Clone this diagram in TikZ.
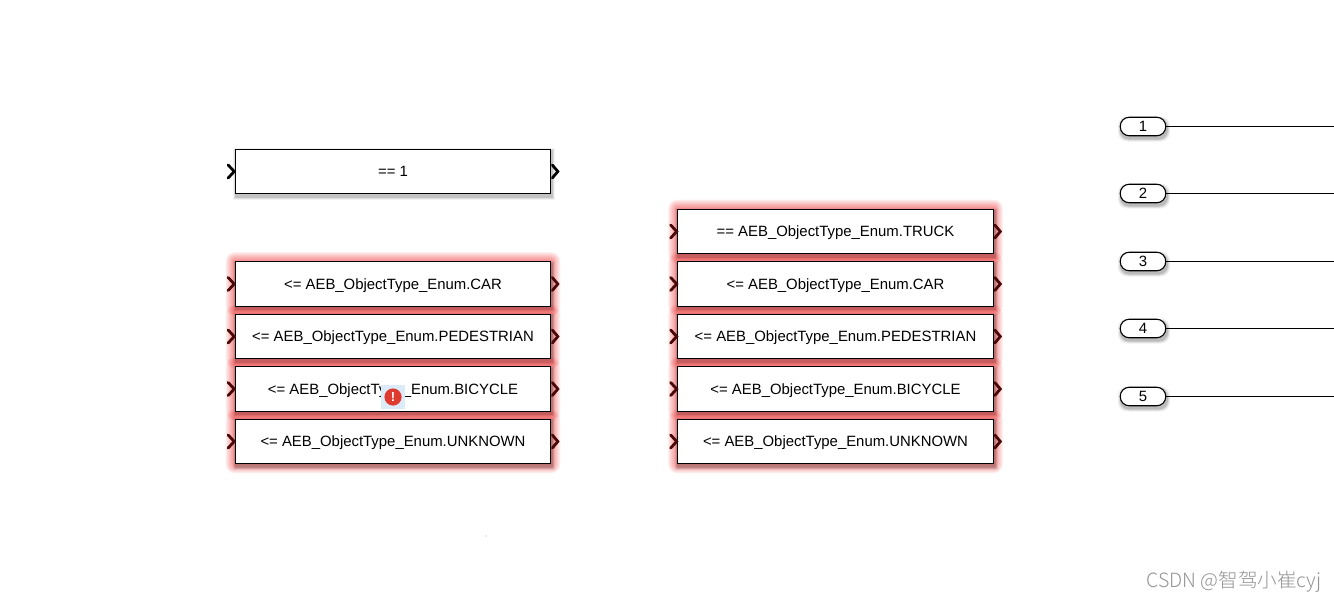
\documentclass[tikz,border=0pt]{standalone}
\usepackage{fontspec}
\setmainfont{Liberation Sans}
\newfontfamily\cjkwm{Noto Sans CJK SC Light}
\usetikzlibrary{backgrounds,calc}
\definecolor{portdark}{HTML}{4A0808}
\definecolor{glowred}{HTML}{F00A0A}
\definecolor{badgeblue}{HTML}{DCEBFA}
\definecolor{badgered}{HTML}{DE3A30}
\tikzset{
  x=1pt,y=-1pt,
  block/.style={draw=black,line width=1.15pt,fill=white,minimum width=315.5pt,minimum height=44.5pt,inner sep=0pt,text height=13pt,text depth=2.2pt,font=\fontsize{14.9}{16}\selectfont},
  outpill/.style={draw=black,line width=1.1pt,fill=white,rounded corners=9pt,minimum width=45.5pt,minimum height=18.5pt,inner sep=0pt,font=\fontsize{14.9}{16}\selectfont},
  wire/.style={draw=black,line width=0.9pt},
  chev/.style={line width=2.8pt,line cap=round,miter limit=10},
}
\newcommand{\blockshadow}[1]{%
  \begin{scope}[on background layer]
    \foreach \k/\o in {3/0.05,2/0.08,1/0.12}{
      \fill[black,opacity=\o] ($(#1.north west)+(1-\k,2.5-\k)$) rectangle ($(#1.south east)+(1+\k,2.5+\k)$);
    }
  \end{scope}}
\newcommand{\blockglow}[1]{%
  \begin{scope}[on background layer]
    \foreach \k in {9,8,7,6,5,4,3,2,1}{
      \fill[glowred,opacity=0.06,rounded corners=\k pt] ($(#1.north west)+(-\k,-\k)$) rectangle ($(#1.south east)+(\k,\k)$);
    }
  \end{scope}}
\newcommand{\ports}[2]{%
  \draw[chev,#2] ($(#1.west)+(-6.5,-6.5)$) -- ($(#1.west)+(-0.5,0)$) -- ($(#1.west)+(-6.5,6.5)$);
  \draw[chev,#2] ($(#1.east)+(1,-6.5)$) -- ($(#1.east)+(6.5,0)$) -- ($(#1.east)+(1,6.5)$);}
\begin{document}
\begin{tikzpicture}
\useasboundingbox (0,0) rectangle (1334,602);
\begin{scope}[on background layer]
\fill[white] (0,0) rectangle (1334,602);
\end{scope}
% left column
\node[block] (a0) at (393,171.5) {== 1};
\node[block] (a1) at (393,284) {<= AEB\_ObjectType\_Enum.CAR};
\node[block] (a2) at (393,336.5) {<= AEB\_ObjectType\_Enum.PEDESTRIAN};
\node[block] (a3) at (393,389) {<= AEB\_ObjectType\_Enum.BICYCLE};
\node[block] (a4) at (393,441.5) {<= AEB\_ObjectType\_Enum.UNKNOWN};
% right column
\node[block] (b0) at (835.5,231.5) {== AEB\_ObjectType\_Enum.TRUCK};
\node[block] (b1) at (835.5,284) {<= AEB\_ObjectType\_Enum.CAR};
\node[block] (b2) at (835.5,336.5) {<= AEB\_ObjectType\_Enum.PEDESTRIAN};
\node[block] (b3) at (835.5,389) {<= AEB\_ObjectType\_Enum.BICYCLE};
\node[block] (b4) at (835.5,441.5) {<= AEB\_ObjectType\_Enum.UNKNOWN};
\blockshadow{a0}
\foreach \n in {a1,a2,a3,a4,b0,b1,b2,b3,b4}{\blockglow{\n}\blockshadow{\n}}
\ports{a0}{black}
\foreach \n in {a1,a2,a3,a4,b0,b1,b2,b3,b4}{\ports{\n}{portdark}}
% outports
\coordinate (e1) at (1334,126.5);
\coordinate (e2) at (1334,193.5);
\coordinate (e3) at (1334,261.5);
\coordinate (e4) at (1334,328.5);
\coordinate (e5) at (1334,396.5);
\foreach \i/\y in {1/126.5,2/193.5,3/261.5,4/328.5,5/396.5}{
  \begin{scope}[on background layer]
    \foreach \k/\o in {3/0.06,2/0.09,1/0.14}{
      \fill[black,opacity=\o,rounded corners=9pt] (1120+1-\k,\y-9.5+2.5-\k) rectangle (1166+1+\k,\y+9.5+2.5+\k);
    }
  \end{scope}
  \node[outpill] (p\i) at (1143,\y) {\i};
  \draw[wire] (p\i.east) -- (e\i);
}
% error badge
\fill[badgeblue] (381,385) rectangle (405,409);
\fill[badgered] (393,397) circle (8.6);
\node[inner sep=0pt,text=white,font=\bfseries\fontsize{13}{13}\selectfont] (err) at (393,397) {!};
% speck
\fill[black!35] (486,536) circle (0.7);
% watermark
\node[anchor=west,inner sep=0pt,text=black!42,font=\cjkwm\fontsize{19.6}{20}\selectfont] (wm) at (1146,582) {CSDN @智驾小崔cyj};
\end{tikzpicture}
\end{document}
